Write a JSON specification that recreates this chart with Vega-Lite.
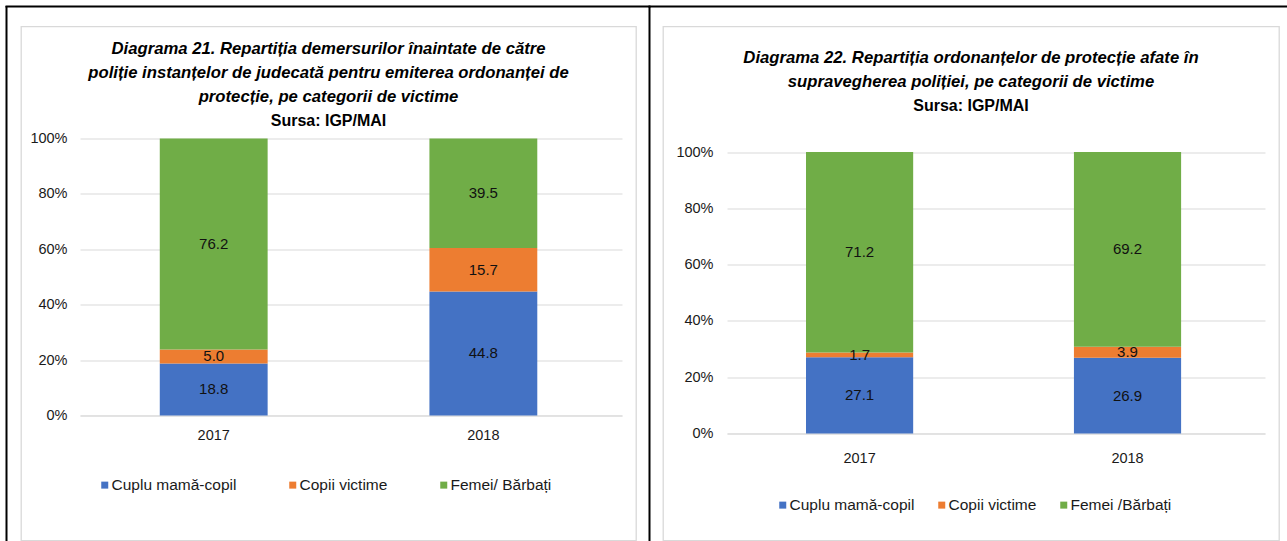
{
  "$schema": "https://vega.github.io/schema/vega-lite/v6.json",
  "padding": {"left": 5, "top": 4.5, "right": 0, "bottom": 0},
  "background": "white",
  "spacing": 27,
  "bounds": "flush",
  "datasets": {
    "d21": [
      {"year": "2017", "cat": "Cuplu mamă-copil", "k": 1, "value": 18.8},
      {"year": "2017", "cat": "Copii victime", "k": 2, "value": 5.0},
      {"year": "2017", "cat": "Femei/ Bărbați", "k": 3, "value": 76.2},
      {"year": "2018", "cat": "Cuplu mamă-copil", "k": 1, "value": 44.8},
      {"year": "2018", "cat": "Copii victime", "k": 2, "value": 15.7},
      {"year": "2018", "cat": "Femei/ Bărbați", "k": 3, "value": 39.5}
    ],
    "d22": [
      {"year": "2017", "cat": "Cuplu mamă-copil", "k": 1, "value": 27.1},
      {"year": "2017", "cat": "Copii victime", "k": 2, "value": 1.7},
      {"year": "2017", "cat": "Femei /Bărbați", "k": 3, "value": 71.2},
      {"year": "2018", "cat": "Cuplu mamă-copil", "k": 1, "value": 26.9},
      {"year": "2018", "cat": "Copii victime", "k": 2, "value": 3.9},
      {"year": "2018", "cat": "Femei /Bărbați", "k": 3, "value": 69.2}
    ]
  },
  "resolve": {"scale": {"color": "independent", "x": "independent", "y": "independent"}, "legend": {"color": "independent"}},
  "hconcat": [
    {
      "width": 615,
      "height": 514,
      "data": {"name": "d21"},
      "title": {
        "text": ["Diagrama 21. Repartiția demersurilor înaintate de către", "poliție instanțelor de judecată pentru emiterea ordonanței de", "protecție, pe categorii de victime"],
        "subtitle": "Sursa: IGP/MAI",
        "offset": -122.5
      },
      "resolve": {"scale": {"x": "independent", "y": "independent"}, "axis": {"x": "independent", "y": "independent"}},
      "layer": [
        {
          "transform": [
            {"stack": "value", "groupby": ["year"], "sort": [{"field": "k", "order": "ascending"}], "as": ["v0", "v1"]},
            {"calculate": "(datum.v0 + datum.v1) / 2", "as": "mid"}
          ],
          "layer": [
            {
              "mark": {"type": "bar"},
              "encoding": {
                "x": {"field": "year", "type": "nominal", "scale": {"range": [59, 601], "paddingInner": 0.6, "paddingOuter": 0.305, "align": 0.485},
                      "axis": {"title": null, "orient": "bottom", "offset": -125, "labelPadding": 13, "labelAngle": 0, "ticks": false, "tickSize": 0, "domainColor": "#d9d9d9", "grid": false}},
                "y": {"field": "v0", "type": "quantitative", "scale": {"domain": [0, 100], "range": [389, 112], "nice": false},
                      "axis": {"title": null, "values": [0, 20, 40, 60, 80, 100], "labelExpr": "datum.value + '%'", "offset": -59, "labelPadding": 13, "ticks": false, "tickSize": 0, "domain": false, "grid": true, "gridColor": "#d9d9d9"}},
                "y2": {"field": "v1"},
                "color": {"field": "cat", "type": "nominal",
                          "scale": {"domain": ["Cuplu mamă-copil", "Copii victime", "Femei/ Bărbați"], "range": ["#4472c4", "#ed7d31", "#70ad47"]},
                          "legend": {"title": null, "orient": "none", "legendX": 76, "legendY": 450.5, "direction": "horizontal", "columnPadding": 48}}
              }
            },
            {
              "mark": {"type": "text", "fontSize": 15, "color": "#111"},
              "encoding": {
                "x": {"field": "year", "type": "nominal"},
                "y": {"field": "mid", "type": "quantitative"},
                "text": {"field": "value", "type": "quantitative", "format": ".1f"}
              }
            }
          ]
        },
        {
          "mark": {"type": "point", "opacity": 0},
          "encoding": {
            "x": {"field": "year", "type": "nominal", "scale": {"range": [-16, 629]},
                  "axis": {"orient": "top", "offset": 20.5, "domainColor": "#000", "domainWidth": 2, "labels": false, "ticks": false, "grid": false, "title": null}},
            "y": {"field": "value", "type": "quantitative", "scale": {"range": [530, -21]},
                  "axis": {"orient": "left", "offset": 15, "domainColor": "#000", "domainWidth": 2, "labels": false, "ticks": false, "grid": false, "title": null}}
          }
        },
        {
          "mark": {"type": "point", "opacity": 0},
          "encoding": {
            "y": {"field": "value", "type": "quantitative", "scale": {"range": [530, -21]},
                  "axis": {"orient": "right", "offset": 13, "domainColor": "#000", "domainWidth": 2, "labels": false, "ticks": false, "grid": false, "title": null}}
          }
        }
      ]
    },
    {
      "width": 616,
      "height": 514,
      "data": {"name": "d22"},
      "title": {
        "text": ["Diagrama 22. Repartiția ordonanțelor de protecție afate în", "supravegherea poliției, pe categorii de victime"],
        "subtitle": "Sursa: IGP/MAI",
        "offset": -107.5
      },
      "resolve": {"scale": {"x": "independent", "y": "independent"}, "axis": {"x": "independent", "y": "independent"}},
      "layer": [
        {
          "transform": [
            {"stack": "value", "groupby": ["year"], "sort": [{"field": "k", "order": "ascending"}], "as": ["v0", "v1"]},
            {"calculate": "(datum.v0 + datum.v1) / 2", "as": "mid"}
          ],
          "layer": [
            {
              "mark": {"type": "bar"},
              "encoding": {
                "x": {"field": "year", "type": "nominal", "scale": {"range": [64, 602], "paddingInner": 0.6, "paddingOuter": 0.304, "align": 0.485},
                      "axis": {"title": null, "orient": "bottom", "offset": -107, "labelPadding": 18, "labelAngle": 0, "ticks": false, "tickSize": 0, "domainColor": "#d9d9d9", "grid": false}},
                "y": {"field": "v0", "type": "quantitative", "scale": {"domain": [0, 100], "range": [407, 125.5], "nice": false},
                      "axis": {"title": null, "values": [0, 20, 40, 60, 80, 100], "labelExpr": "datum.value + '%'", "offset": -64, "labelPadding": 14, "ticks": false, "tickSize": 0, "domain": false, "grid": true, "gridColor": "#d9d9d9"}},
                "y2": {"field": "v1"},
                "color": {"field": "cat", "type": "nominal",
                          "scale": {"domain": ["Cuplu mamă-copil", "Copii victime", "Femei /Bărbați"], "range": ["#4472c4", "#ed7d31", "#70ad47"]},
                          "legend": {"title": null, "orient": "none", "legendX": 112, "legendY": 470.5, "direction": "horizontal", "columnPadding": 19}}
              }
            },
            {
              "mark": {"type": "text", "fontSize": 15, "color": "#111"},
              "encoding": {
                "x": {"field": "year", "type": "nominal"},
                "y": {"field": "mid", "type": "quantitative"},
                "text": {"field": "value", "type": "quantitative", "format": ".1f"}
              }
            }
          ]
        },
        {
          "mark": {"type": "point", "opacity": 0},
          "encoding": {
            "x": {"field": "year", "type": "nominal", "scale": {"range": [-15, 630]},
                  "axis": {"orient": "top", "offset": 20.5, "domainColor": "#000", "domainWidth": 2, "labels": false, "ticks": false, "grid": false, "title": null}}
          }
        }
      ]
    }
  ],
  "config": {
    "font": "Liberation Sans",
    "view": {"stroke": "#d9d9d9", "strokeWidth": 1.3},
    "axis": {"labelFont": "Liberation Sans", "labelFontSize": 14.5, "labelColor": "#1a1a1a"},
    "legend": {"labelFont": "Liberation Sans", "labelFontSize": 15.5, "labelColor": "#1a1a1a", "symbolType": "square", "symbolSize": 49, "symbolStrokeWidth": 0, "labelOffset": -1, "padding": 0},
    "title": {"anchor": "middle", "font": "Liberation Sans", "fontSize": 16.7, "fontStyle": "italic", "fontWeight": "bold", "color": "#000", "lineHeight": 24,
              "subtitleFont": "Liberation Sans", "subtitleFontSize": 16, "subtitleFontWeight": "bold", "subtitleColor": "#000", "subtitlePadding": 7}
  }
}
